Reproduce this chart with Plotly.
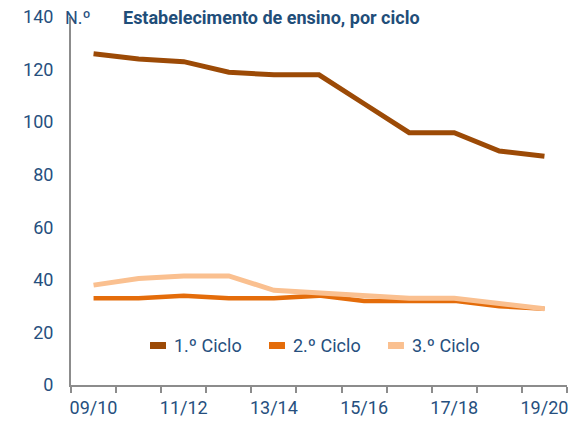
import plotly.graph_objects as go

years = ["09/10", "10/11", "11/12", "12/13", "13/14", "14/15", "15/16", "16/17", "17/18", "18/19", "19/20"]
ciclo1 = [126, 124, 123, 119, 118, 118, 107, 96, 96, 89, 87]
ciclo2 = [33, 33, 34, 33, 33, 34, 32, 32, 32, 30, 29]
ciclo3 = [38, 40.5, 41.5, 41.5, 36, 35, 34, 33, 33, 31, 29]
series_names = ["1.º Ciclo", "2.º Ciclo", "3.º Ciclo"]
colors = ["#9C4A06", "#E46C0A", "#FAC090"]
widths = [5, 4.5, 5]
tick_labels = [y if i % 2 == 0 else "" for i, y in enumerate(years)]
y_ticks = [0, 20, 40, 60, 80, 100, 120, 140]

TXT = "#264F7E"
FONT = "Roboto"

fig = go.Figure()
for name, vals, c, w in zip(series_names, [ciclo1, ciclo2, ciclo3], colors, widths):
    fig.add_trace(go.Scatter(x=years, y=vals, mode="lines", name=name,
                             line=dict(color=c, width=w), showlegend=False))

fig.update_layout(
    width=588, height=424,
    margin=dict(l=71, r=21, t=17, b=39),
    paper_bgcolor="white", plot_bgcolor="white",
    font=dict(family=FONT, size=18, color=TXT),
    showlegend=False,
    xaxis=dict(type="category", categoryorder="array", categoryarray=years,
               tickvals=years, ticktext=tick_labels, tickson="boundaries",
               tickangle=0, automargin=False, ticklabelstandoff=5,
               ticks="outside", ticklen=6, tickwidth=1.5, tickcolor="#8C8C8C",
               showline=True, linecolor="#8C8C8C", linewidth=2,
               showgrid=False, zeroline=False, range=[-0.5, 10.5],
               tickfont=dict(family=FONT, size=18, color=TXT)),
    yaxis=dict(range=[0, 140], tickvals=y_ticks, ticklabeloverflow="allow",
               showline=True, linecolor="#8C8C8C", linewidth=2, automargin=False,
               showgrid=False, zeroline=False, ticks="", ticklabelstandoff=12,
               tickfont=dict(family=FONT, size=18, color=TXT)),
)

# custom legend (short rectangle swatches + labels)
leg_x = [0.1593, 0.3992, 0.6391]
for lx, name, c in zip(leg_x, series_names, colors):
    fig.add_shape(type="rect", xref="paper", yref="paper",
                  x0=lx, x1=lx + 0.0322, y0=0.0978, y1=0.1168,
                  fillcolor=c, line=dict(width=0))
    fig.add_annotation(text=name, xref="paper", yref="paper", x=lx + 0.045, y=0.1073,
                       xanchor="left", yanchor="middle", showarrow=False,
                       font=dict(family=FONT, size=18, color=TXT))

fig.add_annotation(text="N.º", xref="paper", yref="paper", x=-0.017, y=1.0,
                   xanchor="left", yanchor="middle", showarrow=False,
                   font=dict(family=FONT, size=18, color=TXT))
fig.add_annotation(text="<b>Estabelecimento de ensino, por ciclo</b>", xref="paper", yref="paper",
                   x=0.1015, y=1.0, xanchor="left", yanchor="middle", showarrow=False,
                   font=dict(family=FONT, size=18, color="#1F4E79"))

fig.write_html("out.html", config={"displayModeBar": False},
               post_script="document.body.style.margin='0';")
